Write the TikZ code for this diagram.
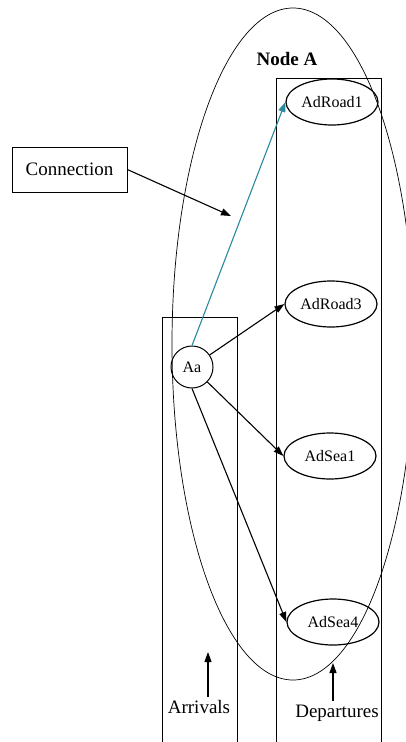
\documentclass[tikz,border=0pt]{standalone}
\usepackage{fontspec}
\setmainfont{Liberation Serif}
\usetikzlibrary{arrows.meta,shapes.geometric}

\definecolor{linkteal}{RGB}{40,138,158}

\tikzset{
  place/.style={draw,ellipse,line width=1.2pt,minimum width=92pt,minimum height=46pt,inner sep=0pt,font=\fontsize{16}{18}\selectfont},
  stop/.style={draw,circle,line width=1pt,minimum size=42pt,inner sep=0pt,font=\fontsize{16}{18}\selectfont},
  label/.style={font=\fontsize{19}{22}\selectfont},
  link/.style={-{Triangle[length=10pt,width=7pt]},line width=1.1pt}
}

\begin{document}
\begin{tikzpicture}[x=1pt,y=-1pt]

\useasboundingbox (0,0) rectangle (406,742);

\draw[line width=0.7pt] (293,344) ellipse (121 and 336);

\draw[line width=0.7pt] (162,742) -- (162,317) -- (237,317) -- (237,742);
\draw[line width=0.7pt] (276,742) -- (276,78) -- (381,78) -- (381,742);

\node[label,font=\fontsize{19}{22}\selectfont\bfseries] (nodeA) at (287,59) {Node A};

\node[place] (AdRoad1) at (332,102) {AdRoad1};
\node[place] (AdRoad3) at (331,304) {AdRoad3};
\node[place] (AdSea1) at (330,456) {AdSea1};
\node[place] (AdSea4) at (333,622) {AdSea4};

\node[stop] (Aa) at (192,367) {Aa};

\draw[link,linkteal] (Aa.north) -- (AdRoad1.west);
\draw[link] (Aa) -- (AdRoad3.west);
\draw[link] (Aa) -- (AdSea1.west);
\draw[link] (Aa.south) -- (AdSea4.west);

\node[label,draw,line width=0.7pt,minimum width=115pt,minimum height=45pt] (conn) at (69.5,169.5) {Connection};
\coordinate (conntip) at (231,216);
\draw[link] (conn.east) -- (conntip);

\node[label] (arrivals) at (199,707) {Arrivals};
\coordinate (arrtip) at (208,652);
\draw[link] (arrivals.north -| arrtip) -- (arrtip);

\node[label] (departures) at (337,713) {Departures};
\coordinate (deptip) at (333,663);
\draw[link] (departures.north -| deptip) -- (deptip);

\end{tikzpicture}
\end{document}
